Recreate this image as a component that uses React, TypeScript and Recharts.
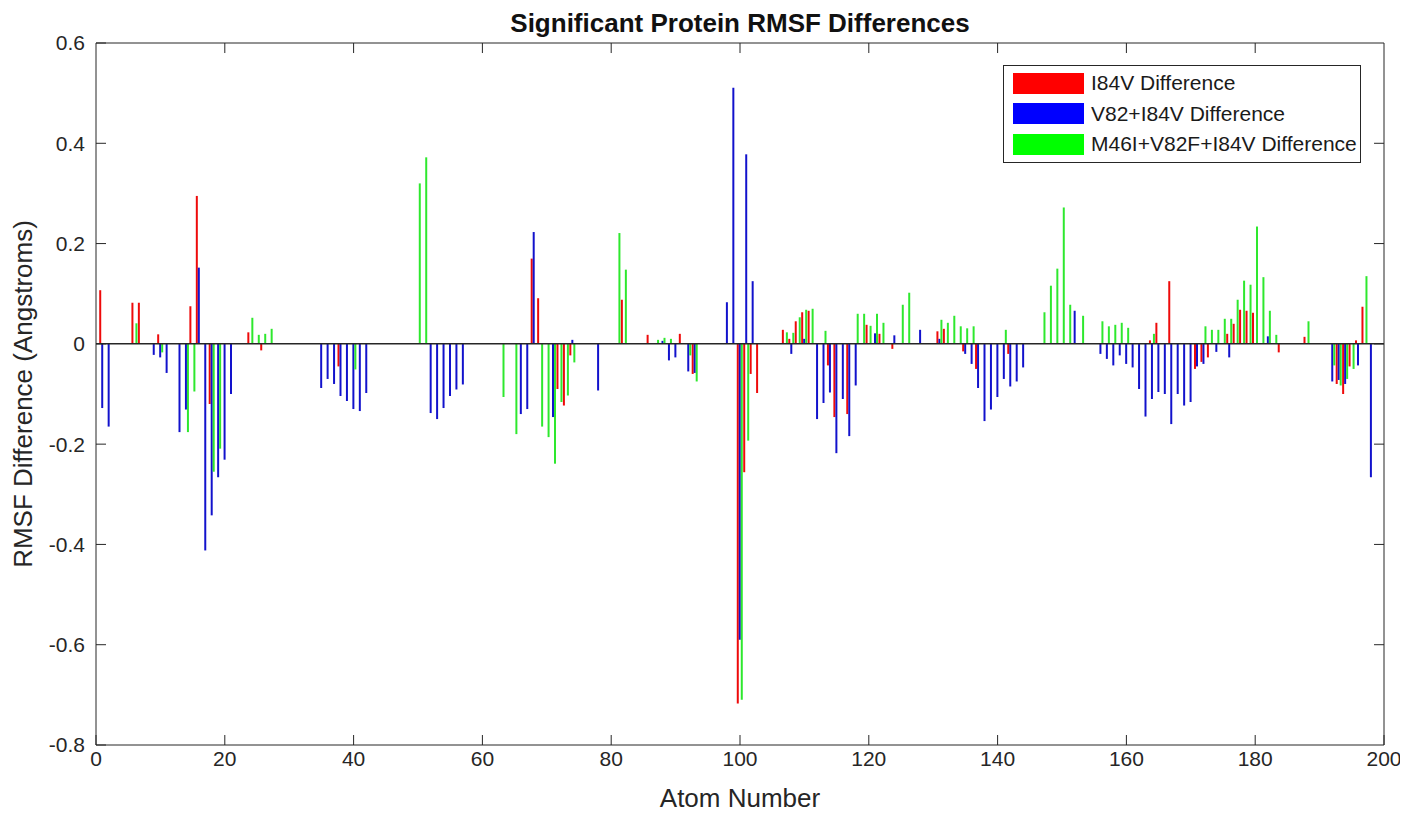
import { Bar, BarChart, XAxis, YAxis, ReferenceLine, Legend } from "recharts"

// [atom, RMSF difference] pairs; atoms not listed have no bar
const i84vDiff: [number, number][] = [
  [1, 0.107], [6, 0.082], [7, 0.082], [10, 0.019], [15, 0.075], [16, 0.295], [18, -0.12],
  [24, 0.023], [26, -0.013], [38, -0.045], [68, 0.17], [69, 0.091], [72, -0.09], [73, -0.123],
  [74, -0.023], [82, 0.088], [86, 0.018], [91, 0.02], [93, -0.06], [100, -0.717], [101, -0.256],
  [102, -0.06], [103, -0.098], [107, 0.028], [108, 0.01], [109, 0.045], [110, 0.063], [111, 0.066],
  [114, -0.043], [115, -0.146], [117, -0.14], [120, 0.038], [122, 0.02], [124, -0.01], [131, 0.025],
  [132, 0.03], [135, -0.015], [137, -0.05], [142, -0.02], [164, 0.007], [165, 0.042], [167, 0.125],
  [171, -0.05], [172, -0.036], [173, -0.027], [176, 0.02], [177, 0.04], [178, 0.068], [179, 0.066],
  [180, 0.062], [184, -0.017], [188, 0.014], [193, -0.08], [194, -0.1], [195, -0.045], [196, 0.007],
  [197, 0.074],
]

const v82i84vDiff: [number, number][] = [
  [1, -0.128], [2, -0.165], [9, -0.022], [10, -0.027], [11, -0.058], [13, -0.176], [14, -0.131],
  [16, 0.152], [17, -0.412], [18, -0.342], [19, -0.266], [20, -0.231], [21, -0.1],
  [35, -0.088], [36, -0.07], [37, -0.08], [38, -0.104], [39, -0.114], [40, -0.13], [41, -0.134], [42, -0.098],
  [52, -0.138], [53, -0.15], [54, -0.128], [55, -0.104], [56, -0.091], [57, -0.081],
  [66, -0.14], [67, -0.13], [68, 0.223], [71, -0.146], [74, 0.008], [78, -0.093], [88, 0.006],
  [89, -0.033], [90, -0.027], [92, -0.055], [93, -0.058],
  [98, 0.083], [99, 0.511], [100, -0.59], [101, 0.378], [102, 0.125], [108, -0.02], [110, 0.01],
  [112, -0.15], [113, -0.118], [114, -0.097], [115, -0.218], [116, -0.11], [117, -0.184], [118, -0.083],
  [121, 0.021], [124, 0.017], [128, 0.028], [131, 0.01],
  [135, -0.02], [136, -0.04], [137, -0.088], [138, -0.154], [139, -0.131], [140, -0.106], [141, -0.07],
  [142, -0.085], [143, -0.075], [144, -0.047], [152, 0.066],
  [156, -0.02], [157, -0.03], [158, -0.043], [159, -0.023], [160, -0.04], [161, -0.047], [162, -0.09],
  [163, -0.145], [164, -0.11], [165, -0.096], [166, -0.1], [167, -0.16], [168, -0.1], [169, -0.123],
  [170, -0.116], [171, -0.045], [172, -0.04], [174, -0.016], [176, -0.027], [182, 0.015],
  [192, -0.075], [193, -0.072], [194, -0.08], [196, -0.043], [198, -0.266],
]

const m46iV82fI84vDiff: [number, number][] = [
  [6, 0.041], [10, -0.017], [14, -0.176], [15, -0.095], [18, -0.255], [19, -0.209], [24, 0.052],
  [25, 0.018], [26, 0.02], [27, 0.03], [40, -0.051], [50, 0.32], [51, 0.372],
  [63, -0.106], [65, -0.18], [69, -0.165], [70, -0.186], [71, -0.239], [72, -0.116], [73, -0.103],
  [74, -0.037], [81, 0.221], [82, 0.148], [87, 0.008], [88, 0.012], [89, 0.01], [92, -0.023], [93, -0.075],
  [100, -0.71], [101, -0.193], [107, 0.023], [108, 0.022], [109, 0.053], [110, 0.068], [111, 0.07],
  [113, 0.026], [118, 0.06], [119, 0.06], [120, 0.036], [121, 0.06], [122, 0.042], [125, 0.078], [126, 0.102],
  [131, 0.048], [132, 0.042], [133, 0.056], [134, 0.035], [135, 0.031], [136, 0.035], [141, 0.028],
  [147, 0.063], [148, 0.116], [149, 0.15], [150, 0.272], [151, 0.078], [153, 0.056],
  [156, 0.045], [157, 0.035], [158, 0.038], [159, 0.042], [160, 0.032], [164, 0.02],
  [172, 0.035], [173, 0.028], [174, 0.028], [175, 0.05], [176, 0.05], [177, 0.088], [178, 0.126],
  [179, 0.118], [180, 0.234], [181, 0.133], [182, 0.066], [183, 0.018], [188, 0.045],
  [192, -0.043], [193, -0.083], [194, -0.07], [195, -0.05], [197, 0.135],
]

const seriesNames = ["I84V Difference", "V82+I84V Difference", "M46I+V82F+I84V Difference"]
const xTicks = [0, 20, 40, 60, 80, 100, 120, 140, 160, 180, 200]
const yTicks = [-0.8, -0.6, -0.4, -0.2, 0, 0.2, 0.4, 0.6]

const barColors = ["#ee0a0a", "#1212cc", "#2ee82e"]
const swatchColors = ["#ff0000", "#0000ff", "#00ff00"]
const ink = "#262626"
const font = "'Liberation Sans', Arial, sans-serif"

const toMap = (pairs: [number, number][]) => new Map(pairs)
const maps = [toMap(i84vDiff), toMap(v82i84vDiff), toMap(m46iV82fI84vDiff)]
const atoms = Array.from(new Set([...i84vDiff, ...v82i84vDiff, ...m46iV82fI84vDiff].map((p) => p[0]))).sort(
  (a, b) => a - b
)
const data = atoms.map((atom) => ({
  atom,
  s0: maps[0].get(atom) ?? null,
  s1: maps[1].get(atom) ?? null,
  s2: maps[2].get(atom) ?? null,
}))

function LegendBox() {
  return (
    <div
      style={{
        width: 356,
        height: 94,
        border: `1px solid ${ink}`,
        background: "#fff",
        paddingTop: 2,
        boxSizing: "content-box",
        fontFamily: font,
      }}
    >
      {seriesNames.map((name, i) => (
        <div key={name} style={{ display: "flex", alignItems: "center", height: 30.5 }}>
          <div style={{ width: 71, height: 21, marginLeft: 9, marginRight: 7, background: swatchColors[i] }} />
          <span style={{ fontSize: 21, color: "#1a1a1a", whiteSpace: "nowrap" }}>{name}</span>
        </div>
      ))}
    </div>
  )
}

export default function App() {
  const tickStyle = { fontSize: 21, fill: ink, fontFamily: font }
  return (
    <div style={{ position: "relative", width: 1392, height: 803, fontFamily: font }}>
      <style>{`.recharts-surface { overflow: visible; }`}</style>
      <div
        style={{
          position: "absolute",
          left: 88,
          width: 1288,
          top: 0,
          textAlign: "center",
          fontSize: 26,
          fontWeight: "bold",
          color: "#111",
          lineHeight: "30px",
          zIndex: 2,
        }}
      >
        Significant Protein RMSF Differences
      </div>
      <BarChart
        width={1392}
        height={803}
        data={data}
        margin={{ top: 35, right: 16, bottom: 0, left: 0 }}
        barGap={0}
      >
        <XAxis
          type="number"
          dataKey="atom"
          domain={[0, 200]}
          ticks={xTicks}
          height={66}
          stroke={ink}
          tickSize={-10}
          tickMargin={16}
          tick={tickStyle}
          label={{ value: "Atom Number", position: "insideBottom", offset: 4, fontSize: 26, fill: ink, fontFamily: font }}
        />
        <YAxis
          type="number"
          domain={[-0.8, 0.6]}
          ticks={yTicks}
          width={88}
          stroke={ink}
          tickSize={-10}
          tickMargin={21}
          tick={tickStyle}
          tickFormatter={(v) => String(Math.round(v * 10) / 10)}
          label={{
            value: "RMSF Difference (Angstroms)",
            angle: -90,
            position: "insideLeft",
            offset: 15,
            fontSize: 26,
            fill: ink,
            fontFamily: font,
            style: { textAnchor: "middle" },
          }}
        />
        <Bar dataKey="s0" name={seriesNames[0]} fill={barColors[0]} barSize={2} isAnimationActive={false} />
        <Bar dataKey="s1" name={seriesNames[1]} fill={barColors[1]} barSize={2} isAnimationActive={false} />
        <Bar dataKey="s2" name={seriesNames[2]} fill={barColors[2]} barSize={2} isAnimationActive={false} />
        <ReferenceLine y={0} stroke={ink} strokeWidth={1.5} />
        <ReferenceLine y={0.6} stroke={ink} />
        <ReferenceLine x={200} stroke={ink} />
        {xTicks.slice(1, -1).map((x) => (
          <ReferenceLine key={`tx${x}`} stroke={ink} segment={[{ x, y: 0.6 }, { x, y: 0.58 }]} />
        ))}
        {yTicks.slice(1, -1).map((y) => (
          <ReferenceLine key={`ty${y}`} stroke={ink} segment={[{ x: 200, y }, { x: 198.45, y }]} />
        ))}
        <Legend
          layout="vertical"
          verticalAlign="middle"
          align="center"
          content={() => <LegendBox />}
          wrapperStyle={{ left: 995, top: 57, width: 358 }}
        />
      </BarChart>
    </div>
  )
}
